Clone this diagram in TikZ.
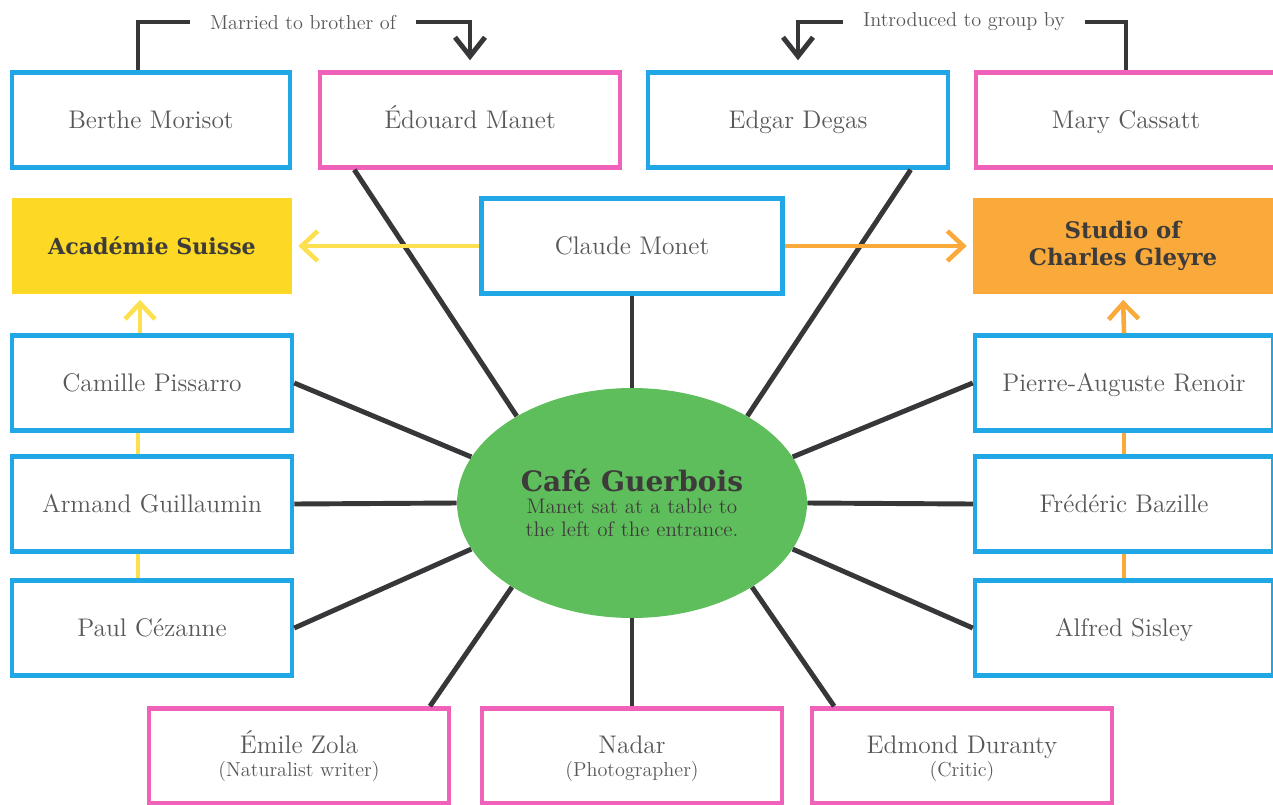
\documentclass[tikz,border=0pt]{standalone}
\usepackage{fontspec}
\newfontfamily\slab{DejaVu Serif}
\usetikzlibrary{arrows.meta,shapes.geometric,calc}

\definecolor{artblue}{RGB}{32,168,230}
\definecolor{artpink}{RGB}{240,98,186}
\definecolor{artyellow}{RGB}{253,216,36}
\definecolor{artorange}{RGB}{249,170,58}
\definecolor{artgreen}{RGB}{94,190,92}
\definecolor{linegrey}{RGB}{55,55,58}
\definecolor{txtgrey}{RGB}{88,88,88}
\definecolor{headgrey}{RGB}{62,60,58}

\newcommand\subnote{\fontsize{11.5}{13}\selectfont}

\tikzset{
  box/.style={draw,line width=2.6pt,fill=white,minimum height=1.9cm,
    text=txtgrey,align=center,font=\fontsize{14.5}{16}\selectfont,
    execute at begin node=\vphantom{Ég}},
  bluebox/.style={box,draw=artblue,minimum width=6cm},
  pinkbox/.style={box,draw=artpink,minimum width=6cm},
  twoline/.style={pinkbox,text height=1.1cm,text depth=0.3cm},
  sidebox/.style={box,draw=artblue,minimum width=5.6cm},
  place/.style={fill=#1,minimum width=5.6cm,minimum height=1.94cm,
    text=headgrey,align=center,font=\slab\bfseries\fontsize{13}{15.5}\selectfont},
  spoke/.style={draw=linegrey,line width=2.8pt},
  remark/.style={text=txtgrey,inner sep=0.4cm,font=\fontsize{11.5}{13}\selectfont}
}

\begin{document}
\begin{tikzpicture}[x=0.02cm,y=-0.02cm,
  >={Straight Barb[length=0.38cm,width=0.6cm]}]
\useasboundingbox (0,0) rectangle (1273,804);

% top row
\node[sidebox,minimum width=5.56cm] (berthe) at (151,120) {Berthe Morisot};
\node[pinkbox] (manet) at (470,120) {Édouard Manet};
\node[bluebox] (degas) at (798,120) {Edgar Degas};
\node[pinkbox] (cassatt) at (1126,120) {Mary Cassatt};

% second row
\node[place=artyellow,font=\slab\bfseries\fontsize{12.6}{15}\selectfont] (academie) at (152,246) {Académie Suisse};
\node[bluebox,minimum width=6.02cm] (monet) at (632,246) {Claude Monet};
\node[place=artorange,minimum width=6cm] (studio) at (1123,246) {Studio of\\Charles Gleyre};

% sides
\node[sidebox] (pissarro) at (152,383) {Camille Pissarro};
\node[sidebox] (guillaumin) at (152,504) {Armand Guillaumin};
\node[sidebox] (cezanne) at (152,628) {Paul Cézanne};
\node[bluebox,minimum width=5.96cm] (renoir) at (1124,383) {Pierre-Auguste Renoir};
\node[bluebox,minimum width=5.96cm] (bazille) at (1124,504) {Frédéric Bazille};
\node[bluebox,minimum width=5.96cm] (sisley) at (1124,628) {Alfred Sisley};

% bottom row
\node[twoline] (zola) at (299,756) {Émile Zola\\[-3pt]{\subnote (Naturalist writer)}};
\node[twoline] (nadar) at (632,756) {Nadar\\[-3pt]{\subnote (Photographer)}};
\node[twoline] (duranty) at (962,756) {Edmond Duranty\\[-3pt]{\subnote (Critic)}};

% centre
\node[ellipse,fill=artgreen,minimum width=7cm,minimum height=4.6cm,inner sep=0pt,
  align=center,text=headgrey,font=\fontsize{12}{13.5}\selectfont] (cg) at (632,503)
  {{\slab\bfseries\fontsize{16}{18}\selectfont Café Guerbois}\\[-1pt]
   Manet sat at a table to\\the left of the entrance.};

\draw[spoke] (cg.143) -- ($(manet.south west)!.12!(manet.south east)$);
\draw[spoke] (cg.37) -- ($(degas.south west)!.87!(degas.south east)$);
\draw[spoke] (cg.north) -- (monet.south);
\draw[spoke] (cg.164) -- (pissarro.east);
\draw[spoke] (cg.west) -- (guillaumin.east);
\draw[spoke] (cg.196) -- (cezanne.east);
\draw[spoke] (cg.16) -- (renoir.west);
\draw[spoke] (cg.east) -- (bazille.west);
\draw[spoke] (cg.344) -- (sisley.west);
\draw[spoke] (cg.215) -- ($(zola.north west)!.93!(zola.north east)$);
\draw[spoke] (cg.south) -- (nadar.north);
\draw[spoke] (cg.325) -- ($(duranty.north west)!.08!(duranty.north east)$);

% schools
\draw[->,draw=artyellow!80!white,line width=2.6pt,shorten >=0.12cm,
  >={Straight Barb[length=0.32cm,width=0.6cm]}] (monet.west) -- (academie.east);
\draw[->,draw=artorange,line width=2.6pt,shorten >=0.12cm,
  >={Straight Barb[length=0.32cm,width=0.6cm]}] (monet.east) -- (studio.west);
\draw[->,draw=artyellow!80!white,line width=2.6pt,shorten >=0.1cm,
  >={Straight Barb[length=0.32cm,width=0.6cm]}]
  ([xshift=-0.24cm]pissarro.north) -- ([xshift=-0.24cm]academie.south);
\draw[draw=artyellow!80!white,line width=2.6pt]
  ([xshift=-0.28cm]guillaumin.north) -- ([xshift=-0.28cm]pissarro.south)
  ([xshift=-0.28cm]cezanne.north) -- ([xshift=-0.28cm]guillaumin.south);
\draw[->,draw=artorange,line width=2.6pt,shorten >=0.1cm,
  >={Straight Barb[length=0.32cm,width=0.6cm]}] (renoir.north) -- (studio.south);
\draw[draw=artorange,line width=2.6pt]
  (bazille.north) -- (renoir.south)
  (sisley.north) -- (bazille.south);

% family and introductions
\node[remark] (married) at (303,22) {Married to brother of};
\draw[spoke] ([xshift=-0.26cm]berthe.north) |- (married.west);
\draw[spoke,->,shorten >=0.2cm] (married.east) -| (manet.north);
\node[remark] (introduced) at (964,22) {Introduced to group by};
\draw[spoke] (cassatt.north) |- (introduced.east);
\draw[spoke,->,shorten >=0.2cm] (introduced.west) -| (degas.north);
\end{tikzpicture}
\end{document}
